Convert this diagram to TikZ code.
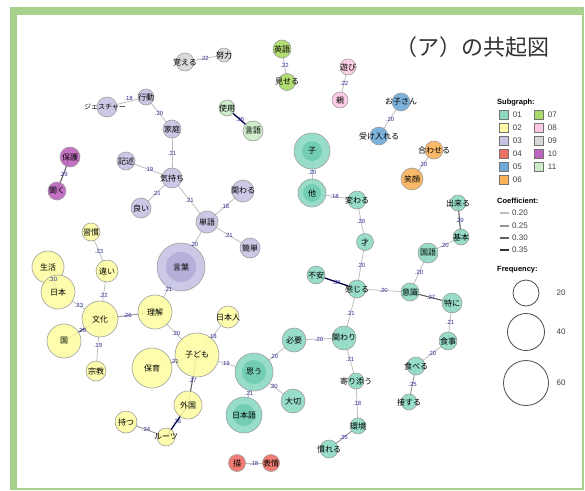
\documentclass[tikz,border=0pt]{standalone}
\usepackage{fontspec}
\setmainfont{Liberation Sans}
\newfontfamily\jp{Noto Sans CJK JP}
\pgfdeclarelayer{framelayer}
\pgfdeclarelayer{edgelayer}
\pgfsetlayers{framelayer,edgelayer,main}
\definecolor{frameg}{RGB}{169,209,142}
\definecolor{sgA}{RGB}{140,218,196}
\definecolor{sgAin}{RGB}{112,204,178}
\definecolor{sgB}{RGB}{253,253,165}
\definecolor{sgC}{RGB}{198,196,228}
\definecolor{sgCin}{RGB}{178,174,216}
\definecolor{sgD}{RGB}{240,110,100}
\definecolor{sgE}{RGB}{110,170,215}
\definecolor{sgF}{RGB}{250,178,88}
\definecolor{sgG}{RGB}{170,218,100}
\definecolor{sgH}{RGB}{250,202,225}
\definecolor{sgI}{RGB}{215,215,215}
\definecolor{sgJ}{RGB}{190,100,190}
\definecolor{sgK}{RGB}{202,236,198}
\definecolor{lblc}{RGB}{50,50,150}
\tikzset{
  bub/.style={circle, draw=black!38, line width=0.6pt, inner sep=0pt, fill opacity=0.9},
  bubin/.style={circle, draw=none, inner sep=0pt, fill opacity=0.9},
  ntext/.style={font=\jp\fontsize{8}{8}\selectfont, inner sep=0pt, text=black},
  elbl/.style={font=\fontsize{6}{6}\selectfont, text=lblc, inner sep=0pt},
  cA/.style={draw=black!25, line width=0.8pt},
  cB/.style={draw=black!42, line width=0.9pt},
  cC/.style={draw=black!62, line width=1.1pt},
  cD/.style={draw=black!75!blue, line width=1.3pt},
  lsq/.style={draw=black!55, line width=0.5pt, minimum size=9pt, inner sep=0pt},
  ltxt/.style={font=\fontsize{8}{8}\selectfont, text=black!75, anchor=west, inner sep=0pt},
  lhead/.style={font=\bfseries\fontsize{7.5}{7.5}\selectfont, anchor=west, inner sep=0pt},
  fcirc/.style={circle, draw=black!70, line width=0.8pt, inner sep=0pt}
}
\newcommand\bb[5]{\node[bub,fill=#5,minimum size=#4pt] (#1) at (#2,#3) {};}
\newcommand\ntx[2]{\node[ntext] at (#1) {#2};}
\newcommand\ee[5][]{\begin{pgfonlayer}{edgelayer}\draw[#5] (#2.center) -- (#3.center);\end{pgfonlayer}\path (#2.center) -- (#3.center) node[midway,elbl,#1] {#4};}
\begin{document}
\begin{tikzpicture}[x=1pt,y=-1pt]
\useasboundingbox (0,0) rectangle (585,490);
\begin{pgfonlayer}{framelayer}
\fill[white] (0,0) rectangle (585,490);
\fill[frameg] (10,7) rectangle (584,490);
\fill[white] (17,15) rectangle (582,488);
\end{pgfonlayer}
\node[font=\jp\fontsize{22}{22}\selectfont, text=black!80] (title) at (472,47) {（ア）の共起図};
% subgraph 09
\bb{oboeru}{185}{62}{18}{sgI}
\bb{doryoku}{224}{55}{14}{sgI}
% 07
\bb{eigo}{282}{49}{18}{sgG}
\bb{miseru}{287}{82}{17}{sgG}
% 08
\bb{asobi}{348}{67}{16}{sgH}
\bb{oya}{340}{100}{16}{sgH}
% 05
\bb{okosan}{401}{102}{18}{sgE}
\bb{ukeireru}{379}{136}{18}{sgE}
% 06
\bb{awaseru}{434}{150}{18}{sgF}
\bb{egao}{412}{179}{22}{sgF}
% 11
\bb{shiyou}{227}{108}{16}{sgK}
\bb{gengo}{253}{131}{20}{sgK}
% 10
\bb{hogo}{70}{157}{20}{sgJ}
\bb{kiku}{57}{191}{18}{sgJ}
% 03
\bb{gesture}{107}{107}{20}{sgC}
\bb{koudou}{146}{97}{16}{sgC}
\bb{katei}{172}{129}{18}{sgC}
\bb{kijutsu}{126}{161}{18}{sgC}
\bb{kimochi}{172}{178}{20}{sgC}
\bb{yoi}{141}{208}{20}{sgC}
\bb{kakawaru}{243}{191}{22}{sgC}
\bb{tango}{207}{222}{22}{sgC}
\bb{kantan}{250}{248}{20}{sgC}
\bb{kotoba}{181}{267}{48}{sgC}
\node[bubin,fill=sgCin,minimum size=30pt] at (kotoba) {};
% 02
\bb{shukan}{91}{232}{18}{sgB}
\bb{chigai}{107}{271}{22}{sgB}
\bb{seikatsu}{48}{267}{32}{sgB}
\bb{nihon}{58}{292}{34}{sgB}
\bb{bunka}{100}{319}{36}{sgB}
\bb{rikai}{155}{312}{34}{sgB}
\bb{kuni}{64}{341}{34}{sgB}
\bb{shukyo}{96}{371}{20}{sgB}
\bb{nihonjin}{228}{317}{22}{sgB}
\bb{kodomo}{197}{355}{44}{sgB}
\bb{hoiku}{152}{368}{40}{sgB}
\bb{gaikoku}{188}{405}{28}{sgB}
\bb{roots}{166}{437}{18}{sgB}
\bb{motsu}{126}{422}{22}{sgB}
% 04
\bb{byo}{237}{463}{17}{sgD}
\bb{hyojo}{271}{463}{17}{sgD}
% 01
\bb{ko}{312}{151}{36}{sgA}
\node[bubin,fill=sgAin,minimum size=20pt] at (ko) {};
\bb{hoka}{312}{193}{28}{sgA}
\node[bubin,fill=sgAin,minimum size=18pt] at (hoka) {};
\bb{kawaru}{357}{200}{18}{sgA}
\bb{sai}{365}{242}{17}{sgA}
\bb{fuan}{316}{275}{18}{sgA}
\bb{kanjiru}{357}{289}{18}{sgA}
\bb{ishiki}{410}{292}{18}{sgA}
\bb{tokuni}{452}{303}{20}{sgA}
\bb{kokugo}{428}{253}{20}{sgA}
\bb{kihon}{461}{237}{16}{sgA}
\bb{dekiru}{458}{203}{16}{sgA}
\bb{shokuji}{448}{341}{18}{sgA}
\bb{taberu}{416}{366}{18}{sgA}
\bb{sessuru}{409}{402}{16}{sgA}
\bb{kakawari}{344}{338}{24}{sgA}
\bb{hitsuyo}{294}{340}{24}{sgA}
\bb{yorisou}{356}{381}{16}{sgA}
\bb{kankyo}{358}{426}{16}{sgA}
\bb{nareru}{329}{449}{18}{sgA}
\bb{taisetsu}{293}{401}{24}{sgA}
\bb{omou}{254}{372}{38}{sgA}
\node[bubin,fill=sgAin,minimum size=24pt] at (omou) {};
\bb{nihongo}{244}{415}{36}{sgA}
\node[bubin,fill=sgAin,minimum size=22pt] at (nihongo) {};
% edges
\ee{oboeru}{doryoku}{.22}{cA}
\ee{eigo}{miseru}{.22}{cA}
\ee{asobi}{oya}{.22}{cA}
\ee{okosan}{ukeireru}{.20}{cA}
\ee{awaseru}{egao}{.20}{cA}
\ee{shiyou}{gengo}{.36}{cD}
\ee{hogo}{kiku}{.29}{cC}
\ee[xshift=2pt,yshift=4pt]{gesture}{koudou}{.18}{cA}
\ee{koudou}{katei}{.20}{cA}
\ee{katei}{kimochi}{.21}{cA}
\ee{kijutsu}{kimochi}{.19}{cA}
\ee{kimochi}{yoi}{.21}{cA}
\ee{kimochi}{tango}{.21}{cA}
\ee{tango}{kakawaru}{.18}{cA}
\ee{tango}{kantan}{.21}{cA}
\ee{tango}{kotoba}{.20}{cA}
\ee{kotoba}{rikai}{.21}{cA}
\ee{shukan}{chigai}{.23}{cA}
\ee{chigai}{bunka}{.22}{cA}
\ee{seikatsu}{nihon}{.30}{cC}
\ee{nihon}{bunka}{.23}{cA}
\ee{bunka}{rikai}{.26}{cB}
\ee{kuni}{bunka}{.28}{cC}
\ee{bunka}{shukyo}{.19}{cA}
\ee{rikai}{kodomo}{.20}{cA}
\ee{nihonjin}{kodomo}{.18}{cA}
\ee{hoiku}{kodomo}{.21}{cA}
\ee{kodomo}{gaikoku}{.27}{cC}
\ee{gaikoku}{roots}{.36}{cD}
\ee{motsu}{roots}{.24}{cB}
\ee{kodomo}{omou}{.19}{cA}
\ee{byo}{hyojo}{.18}{cA}
\ee{ko}{hoka}{.20}{cA}
\ee{hoka}{kawaru}{.18}{cA}
\ee{kawaru}{sai}{.20}{cA}
\ee{sai}{kanjiru}{.20}{cA}
\ee{fuan}{kanjiru}{.36}{cD}
\ee{kanjiru}{ishiki}{.20}{cA}
\ee{ishiki}{tokuni}{.27}{cC}
\ee{kokugo}{ishiki}{.20}{cA}
\ee{kokugo}{kihon}{.20}{cA}
\ee{kihon}{dekiru}{.29}{cC}
\ee{tokuni}{shokuji}{.21}{cA}
\ee{shokuji}{taberu}{.20}{cA}
\ee{taberu}{sessuru}{.25}{cB}
\ee{kanjiru}{kakawari}{.21}{cA}
\ee{hitsuyo}{kakawari}{.20}{cA}
\ee{kakawari}{yorisou}{.21}{cA}
\ee{yorisou}{kankyo}{.18}{cA}
\ee{kankyo}{nareru}{.25}{cB}
\ee{omou}{hitsuyo}{.20}{cA}
\ee{omou}{taisetsu}{.20}{cA}
\ee{omou}{nihongo}{.21}{cA}
% node texts
\ntx{oboeru}{覚える}\ntx{doryoku}{努力}\ntx{eigo}{英語}\ntx{miseru}{見せる}
\ntx{asobi}{遊び}\ntx{oya}{親}\ntx{okosan}{お子さん}\ntx{ukeireru}{受け入れる}
\ntx{awaseru}{合わせる}\ntx{egao}{笑顔}\ntx{shiyou}{使用}\ntx{gengo}{言語}
\ntx{hogo}{保護}\ntx{kiku}{聞く}
\node[ntext,font=\jp\fontsize{7}{7}\selectfont] at ([xshift=-2pt]gesture.center) {ジェスチャー};
\ntx{koudou}{行動}
\ntx{katei}{家庭}\ntx{kijutsu}{記述}\ntx{kimochi}{気持ち}\ntx{yoi}{良い}
\ntx{kakawaru}{関わる}\ntx{tango}{単語}\ntx{kantan}{簡単}\ntx{kotoba}{言葉}
\ntx{shukan}{習慣}\ntx{chigai}{違い}\ntx{seikatsu}{生活}\ntx{nihon}{日本}
\ntx{bunka}{文化}\ntx{rikai}{理解}\ntx{kuni}{国}\ntx{shukyo}{宗教}
\ntx{nihonjin}{日本人}\ntx{kodomo}{子ども}\ntx{hoiku}{保育}\ntx{gaikoku}{外国}
\ntx{roots}{ルーツ}\ntx{motsu}{持つ}\ntx{byo}{描}\ntx{hyojo}{表情}
\ntx{ko}{子}\ntx{hoka}{他}\ntx{kawaru}{変わる}\ntx{sai}{才}\ntx{fuan}{不安}
\ntx{kanjiru}{感じる}\ntx{ishiki}{意識}\ntx{tokuni}{特に}\ntx{kokugo}{国語}
\ntx{kihon}{基本}\ntx{dekiru}{出来る}\ntx{shokuji}{食事}\ntx{taberu}{食べる}
\ntx{sessuru}{接する}\ntx{kakawari}{関わり}\ntx{hitsuyo}{必要}\ntx{yorisou}{寄り添う}
\ntx{kankyo}{環境}\ntx{nareru}{慣れる}\ntx{taisetsu}{大切}\ntx{omou}{思う}\ntx{nihongo}{日本語}
% legend
\node[lhead] (lsub) at (497,103) {Subgraph:};
\foreach \n/\c/\y in {01/sgA/115,02/sgB/128,03/sgC/141,04/sgD/154,05/sgE/167,06/sgF/180}{
  \node[lsq,fill=\c] (q\n) at (504,\y) {};
  \node[ltxt] at ([xshift=4pt]q\n.east) {\n};
}
\foreach \n/\c/\y in {07/sgG/115,08/sgH/128,09/sgI/141,10/sgJ/154,11/sgK/167}{
  \node[lsq,fill=\c] (q\n) at (539,\y) {};
  \node[ltxt] at ([xshift=4pt]q\n.east) {\n};
}
\node[lhead] (lcoef) at (497,201) {Coefficient:};
\foreach \v/\g/\y in {0.20/25/213,0.25/42/226,0.30/62/238,0.35/80/250}{
  \draw[draw=black!\g, line width=1.2pt] (500,\y) -- (509,\y);
  \node[ltxt] at (512,\y) {\v};
}
\node[lhead] (lfreq) at (497,270) {Frequency:};
\node[fcirc,minimum size=26pt] (f20) at (526,293) {};
\node[fcirc,minimum size=37pt] (f40) at (526,332) {};
\node[fcirc,minimum size=45pt] (f60) at (526,383) {};
\node[ltxt,anchor=center] at (561,293) {20};
\node[ltxt,anchor=center] at (561,332) {40};
\node[ltxt,anchor=center] at (561,383) {60};
\end{tikzpicture}
\end{document}
